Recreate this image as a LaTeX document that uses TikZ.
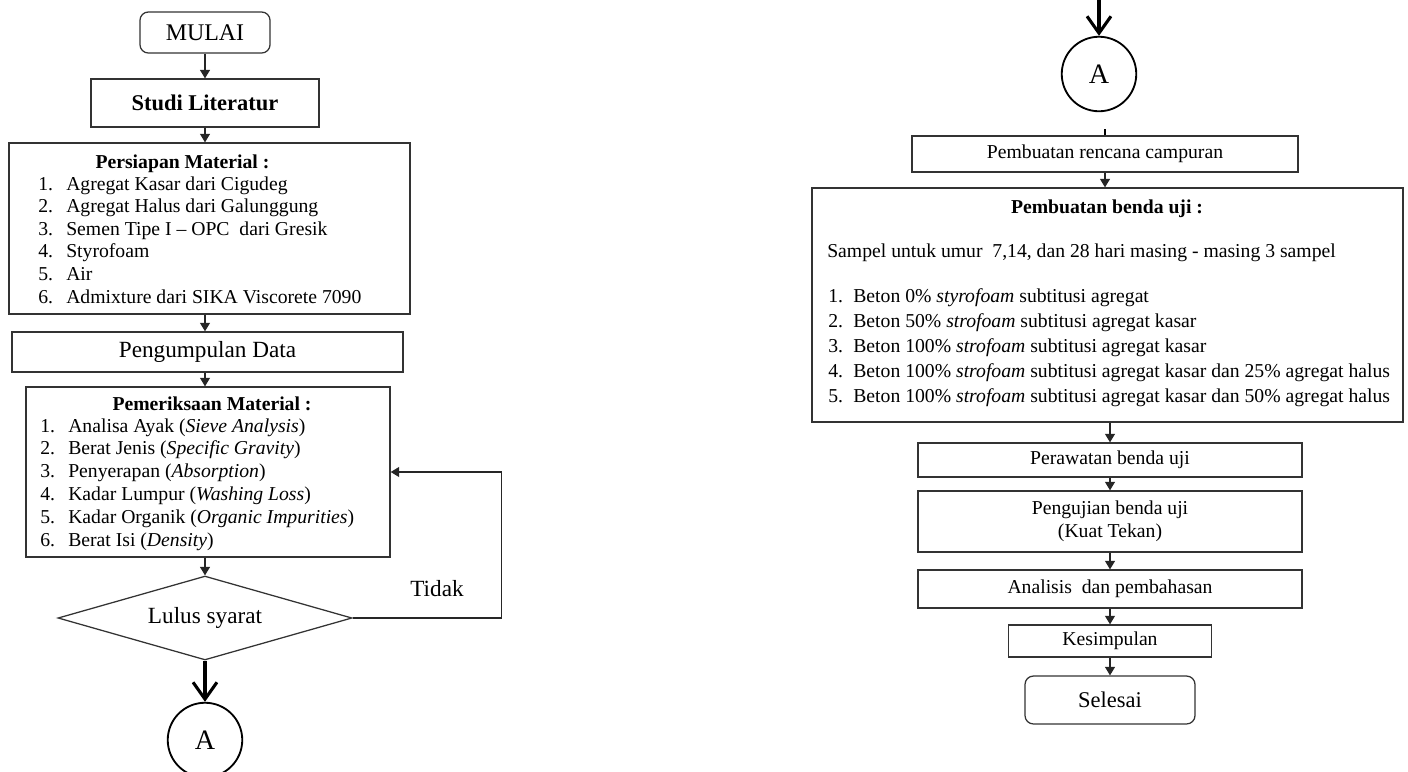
\documentclass[tikz,border=0pt]{standalone}
\usepackage{fontspec}
\setmainfont{Liberation Serif}
\usetikzlibrary{arrows.meta,shapes.geometric}

\newcommand{\itemno}[2][19.9pt]{\makebox[#1][l]{#2.}}

\begin{document}
\begin{tikzpicture}[
  x=0.025cm, y=-0.025cm,
  >={Triangle[length=6pt,width=7pt]},
  every node/.style={font=\fontsize{14}{16}\selectfont},
  box/.style={draw=black!80, line width=0.9pt, inner sep=0pt, align=center},
  term/.style={box, rounded corners=6pt, font=\fontsize{17}{20}\selectfont},
  head/.style={anchor=base, inner sep=0pt, font=\fontsize{14}{16}\selectfont\bfseries},
  item/.style={anchor=base west, inner sep=0pt},
  conn/.style={draw, circle, line width=1.3pt, minimum size=53pt, inner sep=0pt,
               font=\fontsize{20}{24}\selectfont},
  arr/.style={->, line width=0.9pt, draw=black!85},
  bigarr/.style={-{Straight Barb[length=12pt,width=17pt]}, line width=2.2pt},
]
  \useasboundingbox (0,0) rectangle (1408,771);

  % Left column
  \node[term, minimum width=92.5pt, minimum height=29.2pt] (mulai) at (205,32.5) {MULAI};
  \node[box, minimum width=162.2pt, minimum height=34.1pt,
        font=\fontsize{16}{19}\selectfont\bfseries] (studi) at (205,103) {Studi Literatur};

  \node[box, minimum width=285.2pt, minimum height=121.6pt] (persiapan) at (209.5,228.5) {};
  \node[head] (persiapanhead) at (182.5,168) {Persiapan Material :};
  \foreach \t [count=\i] in {{Agregat Kasar dari Cigudeg},
      {Agregat Halus dari Galunggung},
      {Semen Tipe I -- OPC\ \ dari Gresik},
      {Styrofoam}, {Air},
      {Admixture dari SIKA Viscorete 7090}}
    \node[item] (persiapan\i) at (38,{167.4+22.6*\i}) {\itemno{\i}\t};

  \node[box, minimum width=278.1pt, minimum height=28.5pt,
        font=\fontsize{16.5}{19}\selectfont] (pengumpulan) at (207.5,352) {Pengumpulan Data};

  \node[box, minimum width=258.9pt, minimum height=120.9pt] (pemeriksaan) at (208,472) {};
  \node[head] (pemeriksaanhead) at (212,410) {Pemeriksaan Material :};
  \foreach \t [count=\i] in {{Analisa Ayak (\textit{Sieve Analysis})},
      {Berat Jenis (\textit{Specific Gravity})},
      {Penyerapan (\textit{Absorption})},
      {Kadar Lumpur (\textit{Washing Loss})},
      {Kadar Organik (\textit{Organic Impurities})},
      {Berat Isi (\textit{Density})}}
    \node[item] (pemeriksaan\i) at (40,{409.2+22.8*\i}) {\itemno{\i}\t};

  % Decision with loop back
  \node[draw=black!80, diamond, aspect=3.5, line width=0.9pt, minimum width=209.1pt,
        minimum height=59.7pt, inner sep=0pt, font=\fontsize{16.5}{19}\selectfont]
        (lulus) at (205,618) {Lulus syarat};
  \node[font=\fontsize{16.5}{19}\selectfont] (tidak) at (437,589) {Tidak};
  \node[conn] (conAout) at (205,740) {A};

  \draw[arr] (mulai) -- (studi);
  \draw[arr] (studi) -- (persiapan.north -| studi);
  \draw[arr] (persiapan.south -| studi) -- (pengumpulan.north -| studi);
  \draw[arr] (pengumpulan.south -| studi) -- (pemeriksaan.north -| studi);
  \draw[arr] (pemeriksaan.south -| lulus) -- (lulus);
  \draw[arr] (lulus.east) -- ++(149,0) |- (pemeriksaan.east);
  \draw[bigarr] (lulus) -- (conAout);

  % Right column
  \coordinate (topin) at (1099,0);
  \node[conn] (conAin) at (1099,74) {A};
  \draw[bigarr] (topin) -- (conAin);

  \node[box, minimum width=274.6pt, minimum height=25.6pt] (rencana) at (1105,154) {Pembuatan rencana campuran};
  \draw[line width=0.9pt] (rencana.north) -- ++(0,-6);

  \node[box, minimum width=420.4pt, minimum height=166.4pt] (bendauji) at (1107.5,305) {};
  \node[head] (bendaujihead) at (1107,213) {Pembuatan benda uji :};
  \node[item] (sampel) at (827,257) {Sampel untuk umur\ \ 7,14, dan 28 hari masing - masing 3 sampel};
  \foreach \t [count=\i] in {{Beton 0\% \textit{styrofoam} subtitusi agregat},
      {Beton 50\% \textit{strofoam} subtitusi agregat kasar},
      {Beton 100\% \textit{strofoam} subtitusi agregat kasar},
      {Beton 100\% \textit{strofoam} subtitusi agregat kasar dan 25\% agregat halus},
      {Beton 100\% \textit{strofoam} subtitusi agregat kasar dan 50\% agregat halus}}
    \node[item] (bendauji\i) at (828,{276.8+25.2*\i}) {\itemno[17.8pt]{\i}\t};

  \node[box, minimum width=273.1pt, minimum height=24.2pt] (perawatan) at (1110,460) {Perawatan benda uji};
  \node[box, minimum width=273.1pt, minimum height=43.4pt] (pengujian) at (1110,521.5)
    {Pengujian benda uji\\(Kuat Tekan)};
  \node[box, minimum width=273.1pt, minimum height=27pt] (analisis) at (1110,589) {Analisis~ dan pembahasan};
  \node[box, minimum width=144.4pt, minimum height=22.8pt] (kesimpulan) at (1110,641) {Kesimpulan};
  \node[term, minimum width=120.9pt, minimum height=34.1pt,
        font=\fontsize{16}{19}\selectfont] (selesai) at (1110,700) {Selesai};

  \draw[arr] (rencana) -- (bendauji.north -| rencana);
  \draw[arr] (bendauji.south -| perawatan) -- (perawatan);
  \draw[arr] (perawatan) -- (pengujian);
  \draw[arr] (pengujian) -- (analisis);
  \draw[arr] (analisis) -- (kesimpulan);
  \draw[arr] (kesimpulan) -- (selesai);
\end{tikzpicture}
\end{document}
